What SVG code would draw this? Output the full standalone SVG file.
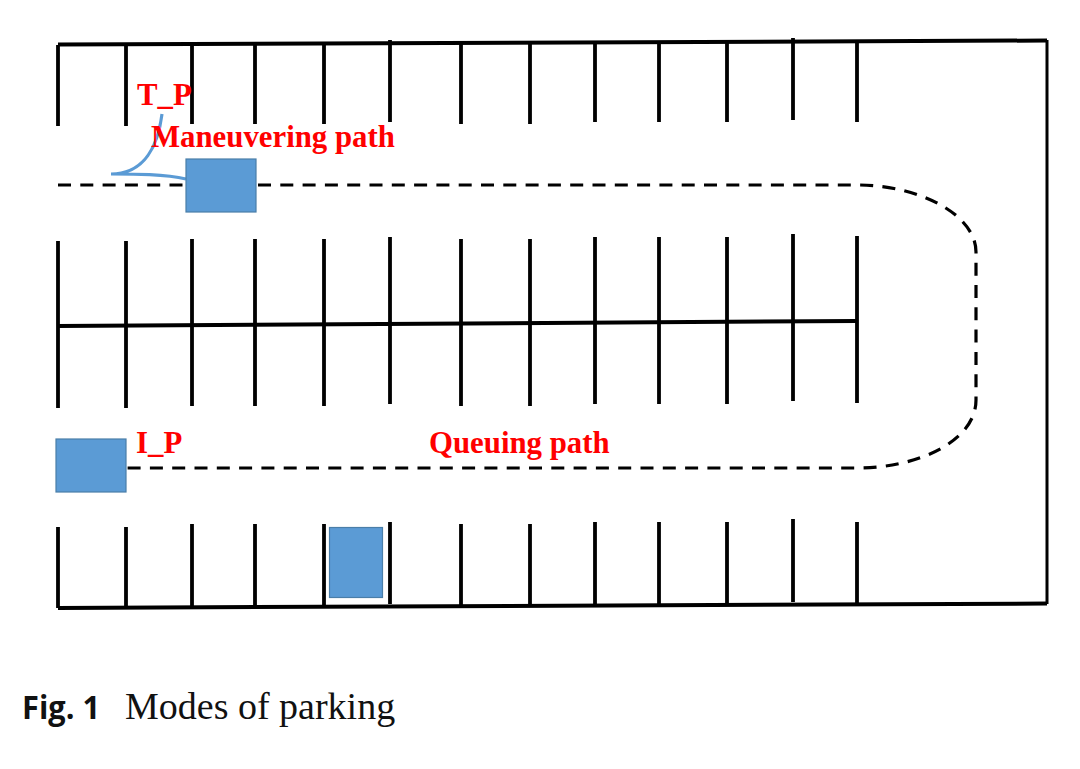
<svg xmlns="http://www.w3.org/2000/svg" width="1080" height="769" viewBox="0 0 1080 769">
<style>
.w{stroke:#000;stroke-width:3.800;fill:none}
.t{stroke:#000;stroke-width:4;fill:none}
.d{stroke:#000;stroke-width:3.200;fill:none;stroke-dasharray:13 9.300}
.car{fill:#5b9bd5;stroke:#4a7ea8;stroke-width:1.200}
.c{stroke:#5b9bd5;stroke-width:3.200;fill:none}
.l{font-family:"Liberation Serif",serif;font-weight:bold;font-size:30.800px;fill:#ff0000}
</style>
<rect width="1080" height="769" fill="#fff"/>
<g id="connectors">
<path class="t" d="M58 44.500L1047 40.500M58 608L1047 603.500M58 326L857 321"/>
<path class="w" style="stroke-width:3" d="M1047 40V604"/>
<path class="w" d="M58 45V126M126 45V126M192 44V124M255 44V124M324 43V124M390 40V122M461 43V124M530 43V124M595 42V122M659 42V122M727 42V122M793 38V120M857 42V122"/>
<path class="w" d="M58 241V326M126 241V326M192 239V325M255 239V325M324 239V324M390 237V324M461 239V323M530 239V323M595 237V322M659 237V322M727 237V322M793 234V321M857 236V321"/>
<path class="w" d="M58 326V408M126 326V408M192 325V406M255 325V406M324 324V406M390 324V404M461 323V406M530 323V406M595 322V404M659 322V404M727 322V404M793 321V401M857 321V403"/>
<path class="w" d="M58 527V608M126 527V608M192 524V607M255 524V607M324 524V606M390 522V604M461 524V606M530 524V606M595 522V605M659 522V605M727 522V605M793 519V602M857 522V603"/>
<path class="d" d="M58 185H186"/>
<path class="d" d="M258 185H857C920 185 976 215 976 252V400C976 440 920 468 857 468H127" style="stroke-dashoffset:0"/>
<path class="c" d="M162 114C158 145 145 174 111 174C135 174 165 174 186 179"/>
</g>
<g id="car-maneuvering"><rect class="car" x="186" y="159" width="70" height="53"/></g>
<g id="car-queuing"><rect class="car" x="56" y="439" width="70" height="53"/></g>
<g id="car-parked"><rect class="car" x="329.500" y="527.500" width="53" height="70"/></g>
<g id="labels">
<text class="l" x="137" y="105">T_P</text>
<text class="l" x="151" y="147">Maneuvering path</text>
<text class="l" x="136" y="453">I_P</text>
<text class="l" x="429" y="453">Queuing path</text>
</g>
<g id="caption">
<text x="22" y="719" font-family="'Open Sans','Noto Sans',sans-serif" font-weight="700" font-size="32px" fill="#111" textLength="78" lengthAdjust="spacingAndGlyphs">Fig. 1</text>
<text x="125" y="719" font-family="'Liberation Serif',serif" font-size="38px" fill="#111">Modes of parking</text>
</g>
</svg>
